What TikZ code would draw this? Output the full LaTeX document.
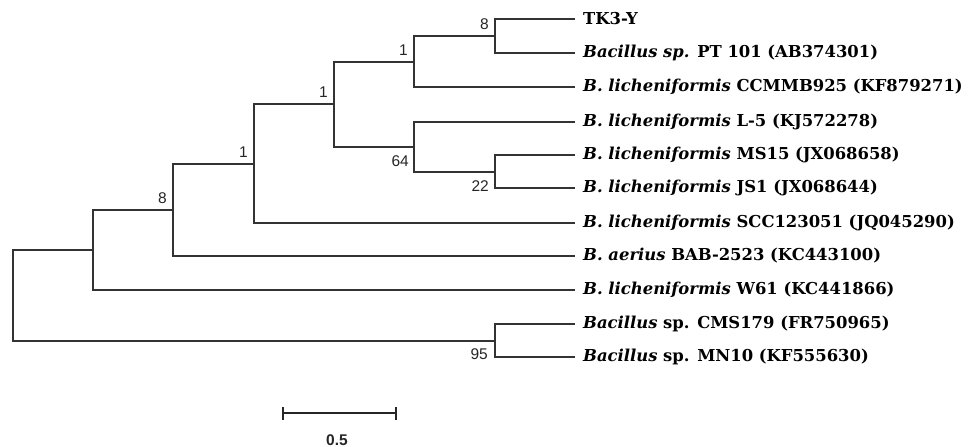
\documentclass[tikz,border=0pt]{standalone}
\usepackage{fontspec}
\setmainfont{DejaVu Serif}
\setsansfont{Liberation Sans}
\begin{document}
\begin{tikzpicture}[x=1pt,y=-1pt,
  br/.style={line width=1.3pt,draw=black!80},
  sbar/.style={line width=2.3pt,draw=black!85},
  leaf/.style={anchor=west,inner sep=0pt,font=\fontsize{16.4}{19}\selectfont\bfseries},
  bsabove/.style={anchor=south east,inner sep=0pt,font=\fontsize{15.5}{18}\sffamily,text=black!85},
  bsbelow/.style={anchor=north east,inner sep=0pt,font=\fontsize{15.5}{18}\sffamily,text=black!85}]
\useasboundingbox (0,0) rectangle (969,447);
% leaf ends
\foreach \n/\y in {l1/19,l2/53,l3/87,l4/122,l5/155,l6/188,l7/223,l8/256,l9/290,l10/324,l11/357}
  \coordinate (\n) at (575,\y);
% internal nodes
\coordinate (A) at (495,36);
\coordinate (B) at (414,62);
\coordinate (E) at (495,172);
\coordinate (D) at (414,147);
\coordinate (C) at (334,104);
\coordinate (F) at (254,164);
\coordinate (G) at (173,210);
\coordinate (H) at (93,250);
\coordinate (I) at (495,341);
\coordinate (R) at (13,295);
% branches
\draw[br] (A) |- (l1); \draw[br] (A) |- (l2);
\draw[br] (B) |- (A); \draw[br] (B) |- (l3);
\draw[br] (E) |- (l5); \draw[br] (E) |- (l6);
\draw[br] (D) |- (l4); \draw[br] (D) |- (E);
\draw[br] (C) |- (B); \draw[br] (C) |- (D);
\draw[br] (F) |- (C); \draw[br] (F) |- (l7);
\draw[br] (G) |- (F); \draw[br] (G) |- (l8);
\draw[br] (H) |- (G); \draw[br] (H) |- (l9);
\draw[br] (I) |- (l10); \draw[br] (I) |- (l11);
\draw[br] (R) |- (H); \draw[br] (R) |- (I);
% leaf labels
\node[leaf] (t1) at ([xshift=8pt]l1) {TK3-Y};
\node[leaf] (t2) at ([xshift=8pt]l2) {\textit{Bacillus sp.} PT 101 (AB374301)};
\node[leaf] (t3) at ([xshift=8pt]l3) {\textit{B. licheniformis} CCMMB925 (KF879271)};
\node[leaf] (t4) at ([xshift=8pt]l4) {\textit{B. licheniformis} L-5 (KJ572278)};
\node[leaf] (t5) at ([xshift=8pt]l5) {\textit{B. licheniformis} MS15 (JX068658)};
\node[leaf] (t6) at ([xshift=8pt]l6) {\textit{B. licheniformis} JS1 (JX068644)};
\node[leaf] (t7) at ([xshift=8pt]l7) {\textit{B. licheniformis} SCC123051 (JQ045290)};
\node[leaf] (t8) at ([xshift=8pt]l8) {\textit{B. aerius} BAB-2523 (KC443100)};
\node[leaf] (t9) at ([xshift=8pt]l9) {\textit{B. licheniformis} W61 (KC441866)};
\node[leaf] (t10) at ([xshift=8pt]l10) {\textit{Bacillus} sp. CMS179 (FR750965)};
\node[leaf] (t11) at ([xshift=8pt]l11) {\textit{Bacillus} sp. MN10 (KF555630)};
% bootstrap values
\node[bsabove] (bA) at ([xshift=-6pt,yshift=6pt]A) {8};
\node[bsabove] (bB) at ([xshift=-6pt,yshift=6pt]B) {1};
\node[bsabove] (bC) at ([xshift=-6pt,yshift=6pt]C) {1};
\node[bsabove] (bF) at ([xshift=-6pt,yshift=6pt]F) {1};
\node[bsabove] (bG) at ([xshift=-6pt,yshift=6pt]G) {8};
\node[bsbelow] (bD) at ([xshift=-5pt,yshift=-8pt]D) {64};
\node[bsbelow] (bE) at ([xshift=-6pt,yshift=-8pt]E) {22};
\node[bsbelow] (bI) at ([xshift=-7pt,yshift=-7pt]I) {95};
% scale bar
\coordinate (s1) at (283,413);
\coordinate (s2) at (396,413);
\draw[sbar] (s1) -- (s2);
\draw[sbar] ([yshift=-6.5pt]s1) -- ([yshift=6.5pt]s1);
\draw[sbar] ([yshift=-6.5pt]s2) -- ([yshift=6.5pt]s2);
\node[font=\fontsize{15.5}{18}\sffamily\bfseries,inner sep=0pt,text=black!85] (sl) at (337,440) {0.5};
\end{tikzpicture}
\end{document}
